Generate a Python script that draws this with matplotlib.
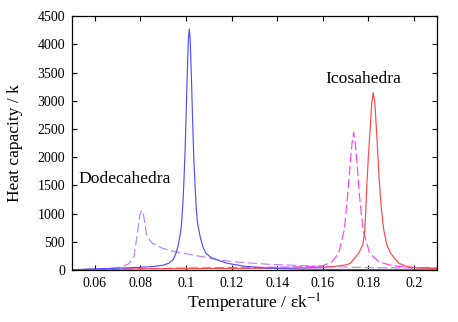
import matplotlib
matplotlib.use("Agg")
import matplotlib.pyplot as plt

# ----- data -----
# dodecahedra, solid blue
dod_x = [0.050, 0.060, 0.070, 0.080, 0.085, 0.090, 0.0925, 0.0945, 0.0956, 0.0965,
         0.0973, 0.0978, 0.0982, 0.0986, 0.0990, 0.0996, 0.1000, 0.1004, 0.1008,
         0.1011, 0.10145, 0.1018, 0.1021, 0.1025, 0.1029, 0.1034, 0.1040, 0.1045,
         0.1050, 0.1062, 0.1075, 0.1088, 0.111, 0.1138, 0.118, 0.125, 0.135, 0.150,
         0.170, 0.190, 0.210]
dod_y = [5, 18, 32, 48, 60, 85, 120, 190, 296, 420,
         590, 720, 900, 1150, 1477, 2100, 2660, 3250, 3780,
         4120, 4270, 4120, 3780, 3250, 2660, 2000, 1477, 1100,
         850, 590, 400, 296, 220, 177, 120, 70, 35, 15,
         8, 5, 3]

# dodecahedra, dashed purple
dod2_x = [0.050, 0.060, 0.065, 0.070, 0.072, 0.075, 0.0772, 0.0787, 0.0797, 0.0802,
          0.0806, 0.0810, 0.0815, 0.0826, 0.084, 0.0853, 0.0897, 0.095, 0.100,
          0.105, 0.110, 0.1147, 0.1235, 0.1368, 0.1513, 0.1588, 0.170, 0.181,
          0.200, 0.210]
dod2_y = [5, 15, 25, 40, 60, 110, 236, 650, 950, 1030,
          1055, 1030, 950, 650, 530, 473, 385, 325, 290,
          250, 215, 177, 136, 100, 77, 66, 52, 41,
          35, 32]

# icosahedra, solid red
ico_x = [0.050, 0.060, 0.080, 0.100, 0.120, 0.140, 0.160, 0.165, 0.170, 0.172,
         0.1757, 0.1775, 0.1784, 0.1789, 0.1794, 0.1800, 0.1807, 0.1814, 0.1821,
         0.1828, 0.1835, 0.1841, 0.1847, 0.1856, 0.1867, 0.1880, 0.1897, 0.1933,
         0.197, 0.200, 0.210]
ico_y = [5, 12, 20, 25, 28, 32, 45, 60, 90, 118,
         296, 450, 709, 1150, 1596, 2050, 2482, 2950, 3144,
         2950, 2482, 2050, 1596, 1100, 709, 450, 296, 118,
         60, 40, 25]

# icosahedra, dashed magenta
ico2_x = [0.050, 0.060, 0.070, 0.080, 0.100, 0.120, 0.140, 0.155, 0.160, 0.164,
          0.1669, 0.1694, 0.1708, 0.1714, 0.172, 0.1728, 0.1735, 0.1742, 0.175,
          0.1755, 0.1761, 0.1776, 0.1805, 0.1845, 0.190, 0.195, 0.200, 0.210]
ico2_y = [3, 8, 15, 25, 35, 42, 50, 60, 75, 147,
          296, 709, 1300, 1600, 1890, 2250, 2441, 2250, 1890,
          1600, 1300, 709, 296, 147, 80, 55, 45, 40]

x_ticks = [0.06, 0.08, 0.1, 0.12, 0.14, 0.16, 0.18, 0.2]
x_tick_labels = ["0.06", "0.08", "0.1", "0.12", "0.14", "0.16", "0.18", "0.2"]
y_ticks = [0, 500, 1000, 1500, 2000, 2500, 3000, 3500, 4000, 4500]

plt.rcParams["font.family"] = ["Liberation Serif", "DejaVu Serif"]
plt.rcParams["mathtext.fontset"] = "stix"

fig = plt.figure(figsize=(4.58, 3.22), dpi=100)
ax = fig.add_axes([0.157, 0.1615, 0.797, 0.7885])

dash = (0, (8, 3))
ax.plot(dod2_x, dod2_y, color="#c080ff", lw=0.85, linestyle=dash)
ax.plot(ico2_x, ico2_y, color="#ff40ff", lw=0.85, linestyle=dash)
ax.plot(ico_x, ico_y, color="#ff4848", lw=0.85)
ax.plot(dod_x, dod_y, color="#5050ff", lw=0.85)

ax.set_xlim(0.05, 0.21)
ax.set_ylim(0, 4500)
ax.set_xticks(x_ticks)
ax.set_xticklabels(x_tick_labels)
ax.set_yticks(y_ticks)
ax.tick_params(direction="in", length=3.5, width=0.8, labelsize=10,
               top=True, right=True, pad=5)
for s in ax.spines.values():
    s.set_linewidth(0.9)

ax.set_xlabel(r"Temperature / εk$^{-1}$", fontsize=12.6, labelpad=1)
ax.set_ylabel("Heat capacity / k", fontsize=12.6, labelpad=10)

ax.text(0.1613, 3316, "Icosahedra", fontsize=12.6)
ax.text(0.0529, 1548, "Dodecahedra", fontsize=12.6)

fig.savefig("out.png", dpi=100)
